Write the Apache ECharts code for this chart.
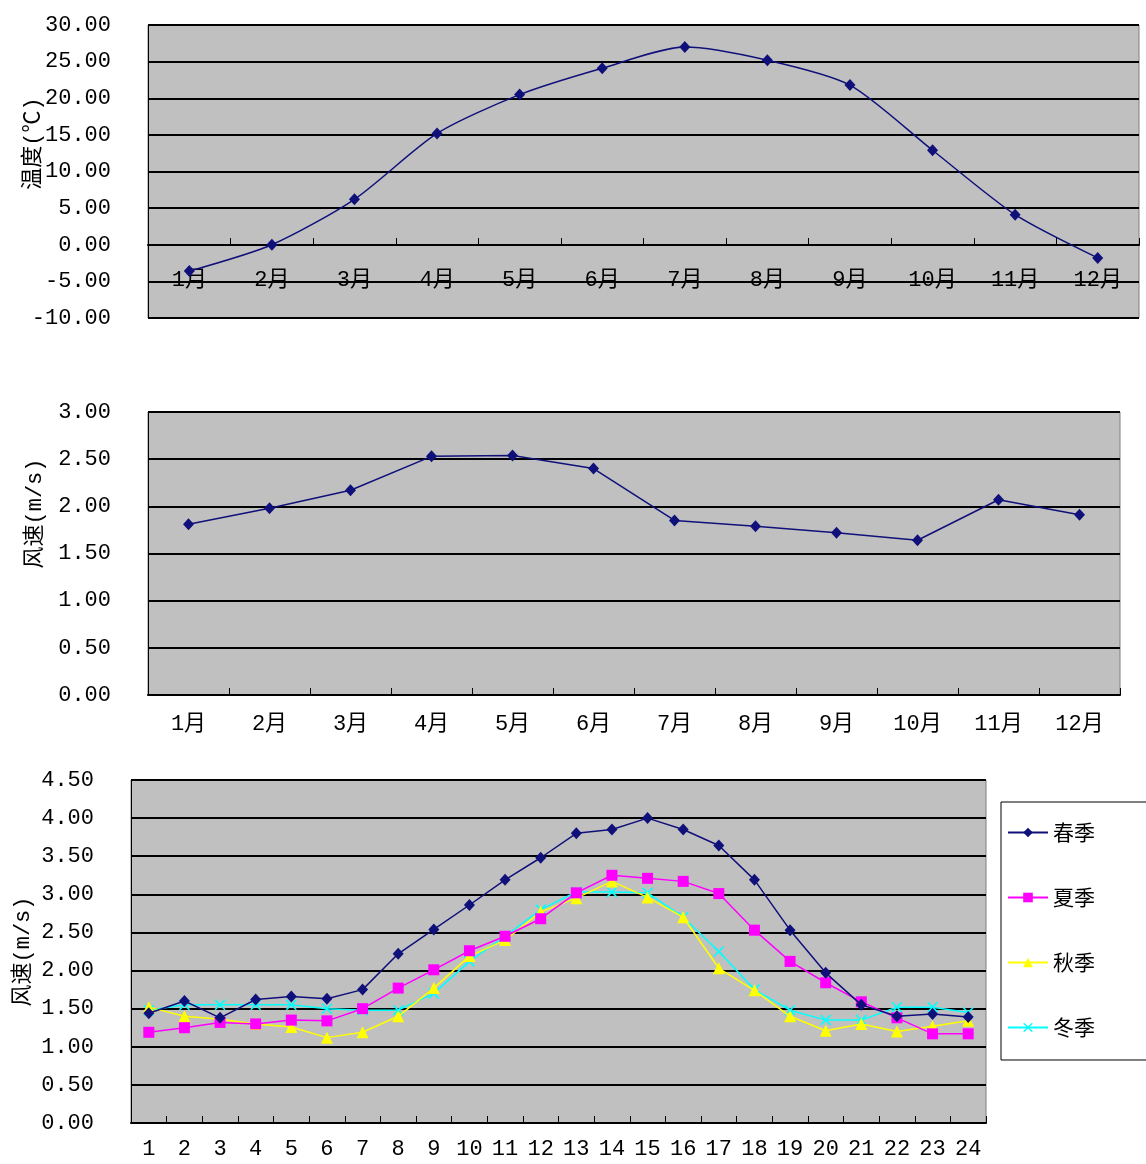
<!DOCTYPE html>
<html>
<head>
<meta charset="utf-8">
<script src="https://cdn.jsdelivr.net/npm/echarts@6/dist/echarts.min.js"></script>
<style>
  html, body { margin: 0; padding: 0; background: #fff; }
  #chart { width: 1146px; height: 1164px; }
</style>
</head>
<body>
<div id="chart"></div>
<script>
const months = ["1月", "2月", "3月", "4月", "5月", "6月", "7月", "8月", "9月", "10月", "11月", "12月"];
const tempMonthly = [-3.6, 0.0, 6.2, 15.2, 20.5, 24.1, 27.0, 25.2, 21.8, 12.9, 4.1, -1.8];
const windMonthly = [1.81, 1.98, 2.17, 2.53, 2.54, 2.40, 1.85, 1.79, 1.72, 1.64, 2.07, 1.91];

const hours = ["1", "2", "3", "4", "5", "6", "7", "8", "9", "10", "11", "12",
  "13", "14", "15", "16", "17", "18", "19", "20", "21", "22", "23", "24"];
const seasonNames = ["春季", "夏季", "秋季", "冬季"];
const spring = [1.44, 1.60, 1.38, 1.62, 1.66, 1.63, 1.75, 2.22, 2.54, 2.86, 3.19, 3.48, 3.80, 3.85, 4.00, 3.85, 3.64, 3.19, 2.53, 1.97, 1.55, 1.40, 1.43, 1.39];
const summer = [1.19, 1.25, 1.32, 1.30, 1.35, 1.34, 1.50, 1.77, 2.01, 2.26, 2.45, 2.68, 3.02, 3.25, 3.21, 3.17, 3.01, 2.53, 2.12, 1.84, 1.59, 1.38, 1.17, 1.17];
const autumn = [1.52, 1.40, 1.36, 1.30, 1.26, 1.12, 1.19, 1.40, 1.77, 2.19, 2.40, 2.77, 2.95, 3.17, 2.96, 2.70, 2.03, 1.74, 1.40, 1.21, 1.30, 1.20, 1.27, 1.34];
const winter = [1.48, 1.55, 1.55, 1.55, 1.55, 1.50, 1.48, 1.48, 1.70, 2.12, 2.45, 2.80, 3.03, 3.03, 3.02, 2.70, 2.25, 1.75, 1.48, 1.35, 1.35, 1.52, 1.52, 1.45];

const FONT = '"Liberation Mono", "Noto Sans CJK SC", monospace';
const NAVY = "#10107a";
const X_MARK = "path://M0,1L1,0L5,4L9,0L10,1L6,5L10,9L9,10L5,6L1,10L0,9L4,5Z";

function makeGrid(left, top, width, height) {
  return {
    left, top, width, height,
    show: true,
    backgroundColor: "#c0c0c0",
    borderColor: "#808080",
    borderWidth: 1,
    containLabel: false,
    outerBoundsMode: "none",
  };
}

// offset < 0 lifts the axis into the plot (first chart: axis sits on 0)
function makeXAxis(gridIndex, data, margin, offset) {
  return {
    type: "category",
    gridIndex,
    data,
    position: "bottom",
    offset: offset || 0,
    boundaryGap: true,
    axisLine: { onZero: false, lineStyle: { color: "#000", width: 2 } },
    axisTick: { show: true, inside: true, length: 7, lineStyle: { color: "#000", width: 1 } },
    axisLabel: { margin, color: "#000", fontSize: 22, fontFamily: FONT, interval: 0 },
    splitLine: { show: false },
  };
}

function makeYAxis(gridIndex, min, max, interval, name, nameGap, shiftUp) {
  return {
    type: "value",
    gridIndex,
    min, max, interval,
    name,
    nameLocation: "middle",
    nameGap,
    nameMoveOverlap: false,
    nameTextStyle: {
      color: "#000", fontSize: 22, fontFamily: FONT,
      padding: [0, 0, 0, shiftUp * 2],
    },
    axisLine: { show: true, lineStyle: { color: "#000", width: 1 } },
    axisTick: { show: false },
    axisLabel: {
      margin: 37, color: "#000", fontSize: 22, fontFamily: FONT,
      formatter: v => v.toFixed(2),
    },
    splitLine: { show: true, lineStyle: { color: "#000", width: 2 } },
  };
}

const chart = echarts.init(document.getElementById("chart"), null, { renderer: "canvas" });

chart.setOption({
  animation: false,
  backgroundColor: "#fff",
  textStyle: { fontFamily: FONT },
  grid: [
    makeGrid(148, 25, 991, 293),
    makeGrid(148, 412, 972, 283),
    makeGrid(131, 780, 855, 343),
  ],
  xAxis: [
    makeXAxis(0, months, 24, -73),
    makeXAxis(1, months, 18),
    makeXAxis(2, hours, 15),
  ],
  yAxis: [
    makeYAxis(0, -10, 30, 5, "温度(℃)", 104, 28),
    makeYAxis(1, 0, 3, 0.5, "风速(m/s)", 102, 40),
    makeYAxis(2, 0, 4.5, 0.5, "风速(m/s)", 97, 0),
  ],
  legend: {
    data: seasonNames,
    orient: "vertical",
    left: 1001,
    top: 802,
    padding: [20, 53, 22, 6],
    itemGap: 44,
    itemWidth: 40,
    itemHeight: 12,
    backgroundColor: "#fff",
    borderColor: "#000",
    borderWidth: 1,
    borderRadius: 0,
    textStyle: { fontSize: 21, color: "#000", fontFamily: '"Noto Sans CJK SC", sans-serif', lineHeight: 20 },
  },
  series: [
    {
      name: "温度", type: "line", xAxisIndex: 0, yAxisIndex: 0, data: tempMonthly,
      smooth: 0.25, symbol: "diamond", symbolSize: [11, 12],
      lineStyle: { color: NAVY, width: 1.5 }, itemStyle: { color: NAVY },
    },
    {
      name: "风速", type: "line", xAxisIndex: 1, yAxisIndex: 1, data: windMonthly,
      symbol: "diamond", symbolSize: [11, 12],
      lineStyle: { color: NAVY, width: 1.5 }, itemStyle: { color: NAVY },
    },
    {
      name: "春季", type: "line", xAxisIndex: 2, yAxisIndex: 2, data: spring,
      symbol: "diamond", symbolSize: [11, 12],
      lineStyle: { color: NAVY, width: 1.5 }, itemStyle: { color: NAVY }, z: 5,
    },
    {
      name: "夏季", type: "line", xAxisIndex: 2, yAxisIndex: 2, data: summer,
      symbol: "rect", symbolSize: 11,
      lineStyle: { color: "#ff00ff", width: 1.5 }, itemStyle: { color: "#ff00ff" }, z: 4,
    },
    {
      name: "秋季", type: "line", xAxisIndex: 2, yAxisIndex: 2, data: autumn,
      symbol: "triangle", symbolSize: 12,
      lineStyle: { color: "#ffff00", width: 1.5 }, itemStyle: { color: "#ffff00" }, z: 3,
    },
    {
      name: "冬季", type: "line", xAxisIndex: 2, yAxisIndex: 2, data: winter,
      symbol: X_MARK, symbolSize: 11,
      lineStyle: { color: "#00ffff", width: 1.5 }, itemStyle: { color: "#00ffff" }, z: 2,
    },
  ],
});
</script>
</body>
</html>
